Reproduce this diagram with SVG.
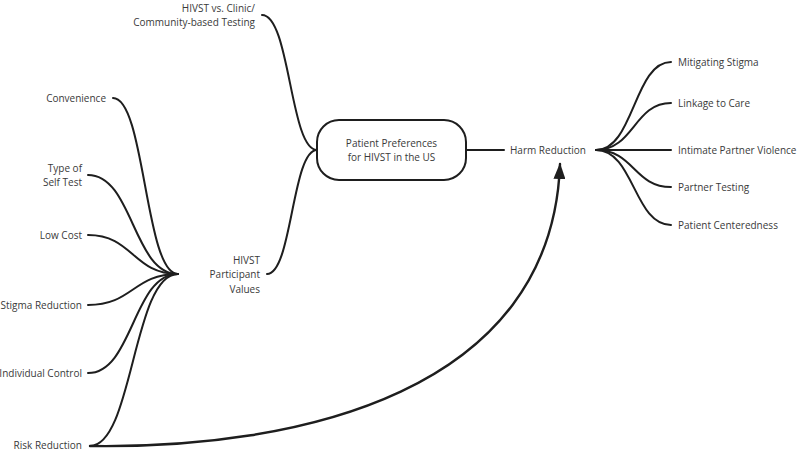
<svg xmlns="http://www.w3.org/2000/svg" width="800" height="452" viewBox="0 0 800 452">
<style>
text{font-family:"Open Sans","Liberation Sans",sans-serif;font-size:10px;fill:#3a3a3a;dominant-baseline:central}
.r{text-anchor:end}
.c{text-anchor:middle}
.l{fill:none;stroke:#1e1e1e;stroke-width:2;stroke-linecap:round}
</style>
<defs>
<marker id="ah" viewBox="0 0 16 12" refX="15" refY="6" markerWidth="16" markerHeight="12" orient="auto" markerUnits="userSpaceOnUse">
<path d="M0,0 L16,6 L0,12 z" fill="#1e1e1e"/>
</marker>
</defs>
<g id="connectors">
<path class="l" d="M317,150 C290,150 290,15 262,15"/>
<path class="l" d="M317,150 C292,150 292,274 267,274"/>
<path class="l" d="M466,150 L504,150"/>
<path class="l" d="M596,150 C634,150 634,62 671,62"/>
<path class="l" d="M596,150 C634,150 634,103 671,103"/>
<path class="l" d="M596,150 L671,150"/>
<path class="l" d="M596,150 C634,150 634,187 671,187"/>
<path class="l" d="M596,150 C634,150 634,225 671,225"/>
<path class="l" d="M178,274 C145,274 145,98 113,98"/>
<path class="l" d="M178,274 C133,274 133,175 88,175"/>
<path class="l" d="M178,274 C133,274 133,235 88,235"/>
<path class="l" d="M178,274 C133,274 133,305 88,305"/>
<path class="l" d="M178,274 C133,274 133,373 88,373"/>
<path class="l" d="M178,274 C133,274 133,446 90,446"/>
<path class="l" style="stroke-width:2.4" marker-end="url(#ah)" d="M90,446 C300,449 552,392 560,164"/>
</g>
<g id="root">
<rect x="317" y="120" width="149" height="60" rx="22" fill="#fff" stroke="#1e1e1e" stroke-width="2"/>
<text class="c" x="391.5" y="143">Patient Preferences</text>
<text class="c" x="391.5" y="157">for HIVST in the US</text>
</g>
<g id="hivst-vs-clinic"><text class="r" x="255" y="8">HIVST vs. Clinic/</text><text class="r" x="255" y="22">Community-based Testing</text></g>
<g id="participant-values"><text class="r" x="260" y="260">HIVST</text><text class="r" x="260" y="274">Participant</text><text class="r" x="260" y="289">Values</text></g>
<g id="harm-reduction"><text x="510" y="150">Harm Reduction</text></g>
<g id="mitigating-stigma"><text x="678" y="62">Mitigating Stigma</text></g>
<g id="linkage"><text x="678" y="103">Linkage to Care</text></g>
<g id="ipv"><text x="678" y="150">Intimate Partner Violence</text></g>
<g id="partner-testing"><text x="678" y="187">Partner Testing</text></g>
<g id="centeredness"><text x="678" y="225">Patient Centeredness</text></g>
<g id="convenience"><text class="r" x="106" y="98">Convenience</text></g>
<g id="type-self-test"><text class="r" x="82" y="168">Type of</text><text class="r" x="82" y="182">Self Test</text></g>
<g id="low-cost"><text class="r" x="82" y="235">Low Cost</text></g>
<g id="stigma-reduction"><text class="r" x="82" y="305">Stigma Reduction</text></g>
<g id="individual-control"><text class="r" x="82" y="373">Individual Control</text></g>
<g id="risk-reduction"><text class="r" x="82" y="445">Risk Reduction</text></g>
</svg>
